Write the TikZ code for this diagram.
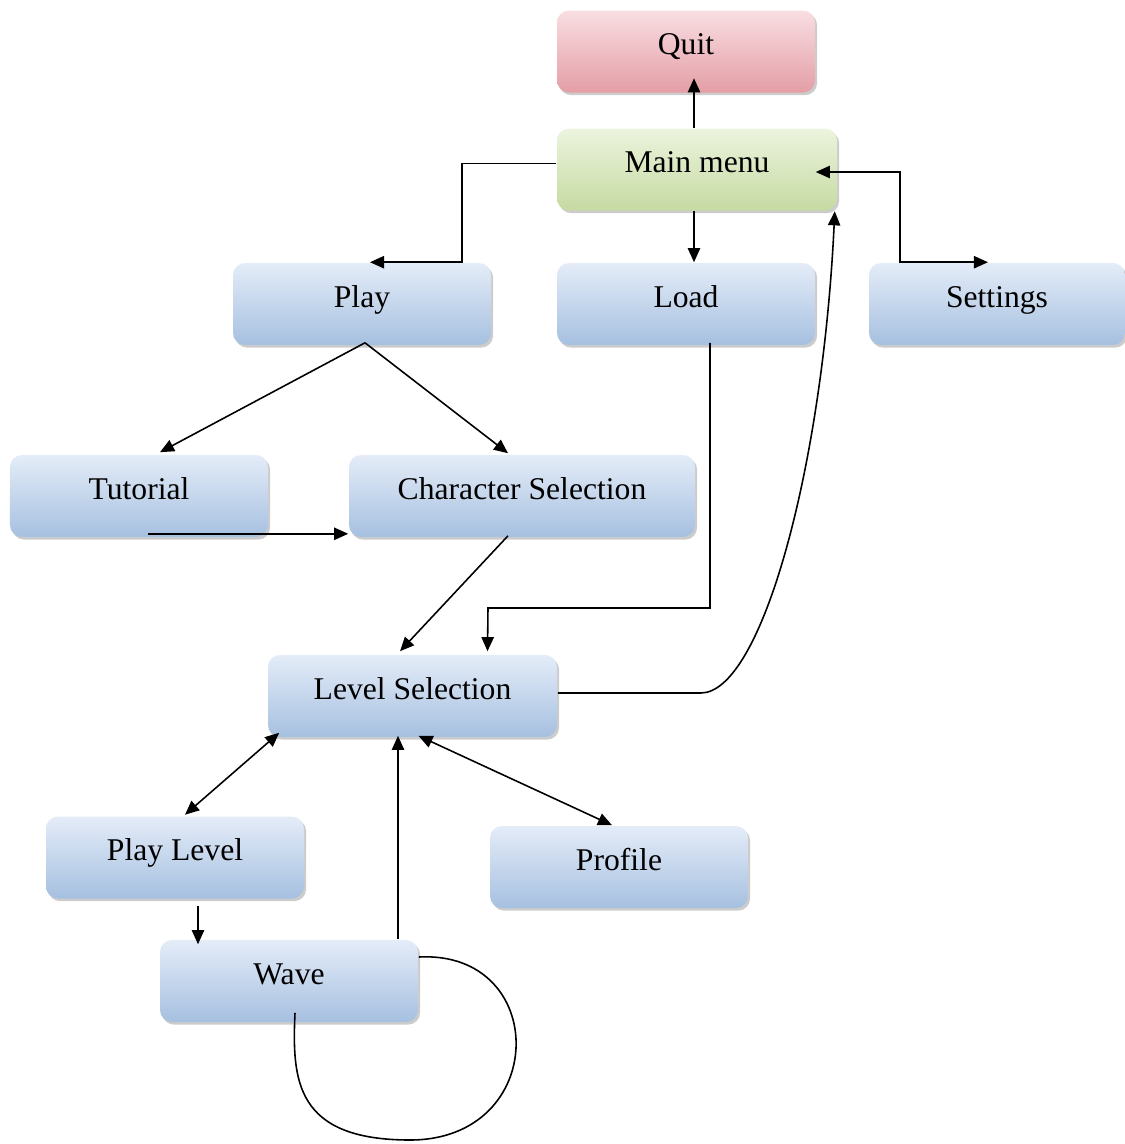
\documentclass[tikz,border=0pt]{standalone}
\usepackage{fontspec}
\setmainfont{Liberation Serif}
\usetikzlibrary{arrows.meta,shadows}

\definecolor{bluelight}{RGB}{228,236,248}
\definecolor{bluedark}{RGB}{166,192,224}
\definecolor{greenlight}{RGB}{236,244,222}
\definecolor{greendark}{RGB}{198,218,162}
\definecolor{redlight}{RGB}{248,222,226}
\definecolor{reddark}{RGB}{228,158,166}

\tikzset{
  box/.style={rectangle,rounded corners=0.24cm,minimum height=1.64cm,
    text height=0.45cm,text depth=0.33cm,
    font=\fontsize{18}{22}\selectfont,
    drop shadow={shadow xshift=1.2pt,shadow yshift=-1.5pt,fill=black!40}},
  bluebox/.style={box,top color=bluelight,bottom color=bluedark},
  greenbox/.style={box,top color=greenlight,bottom color=greendark},
  redbox/.style={box,top color=redlight,bottom color=reddark},
}

\begin{document}
\begin{tikzpicture}[>={Triangle[length=8pt,width=7pt]},line width=0.9pt]
            \useasboundingbox (0,0) rectangle (22.5,-22.88);

            \node[redbox,minimum width=5.16cm] (Q) at (13.72,-1.03) {Quit};
            \node[greenbox,minimum width=5.6cm] (M) at (13.94,-3.39) {Main menu};
            \node[bluebox,minimum width=5.16cm] (P) at (7.24,-6.08) {Play};
            \node[bluebox,minimum width=5.16cm] (D) at (13.72,-6.08) {Load};
            \node[bluebox,minimum width=5.12cm] (S) at (19.94,-6.08) {Settings};
            \node[bluebox,minimum width=5.16cm] (T) at (2.78,-9.92) {Tutorial};
            \node[bluebox,minimum width=6.92cm] (C) at (10.44,-9.92) {Character Selection};
            \node[bluebox,minimum width=5.78cm] (L) at (8.25,-13.92) {Level Selection};
            \node[bluebox,minimum width=5.16cm] (PL) at (3.5,-17.15) {Play Level};
            \node[bluebox,minimum width=5.16cm] (R) at (12.38,-17.34) {Profile};
            \node[bluebox,minimum width=5.16cm] (W) at (5.78,-19.62) {Wave};

            \coordinate (mq) at ([xshift=-0.06cm]M.north);
            \coordinate (c3) at (9.76,-12.16);

            \draw [->] (mq) -- ([yshift=0.3cm]mq |- Q.south);
            \draw [->] ([yshift=0.12cm]M.west) -| ([xshift=2cm]P.north) -- ([xshift=0.16cm]P.north);
            \draw [->] (mq |- M.south) -- (mq |- D.north);
            \draw [<->] ([xshift=-0.44cm,yshift=-0.05cm]M.east) -| ([xshift=-1.94cm]S.north) -- ([xshift=-0.18cm]S.north);
            \path [->] ([xshift=0.06cm,yshift=0.06cm]P.south) edge ([xshift=0.42cm,yshift=0.04cm]T.north);
            \path [->] ([xshift=0.06cm,yshift=0.06cm]P.south) edge ([xshift=-0.28cm,yshift=0.02cm]C.north);
            \draw [->] ([xshift=0.18cm,yshift=0.08cm]T.south) -- ([yshift=0.08cm]C.south west);
            \path [->] ([xshift=-0.28cm,yshift=0.04cm]C.south) edge ([xshift=-0.25cm,yshift=0.06cm]L.north);
            \draw [->] ([xshift=0.48cm,yshift=0.06cm]D.south) |- (c3) -- ([xshift=1.5cm,yshift=0.06cm]L.north);
            \draw [->] ([yshift=0.06cm]L.east) -- ++(2.86,0) .. controls +(1.2,0) and +(-0.25,-5.2) .. ([xshift=-0.06cm]M.south east);
            \path [<->] ([xshift=0.24cm,yshift=0.1cm]L.south west) edge ([xshift=0.2cm,yshift=0.02cm]PL.north);
            \path [<->] ([xshift=0.12cm,yshift=0.04cm]L.south) edge ([xshift=-0.14cm]R.north);
            \draw [->] ([xshift=2.18cm]W.north) -- ([xshift=2.18cm,yshift=0.04cm]W.north |- L.south);
            \draw [->] ([xshift=0.46cm,yshift=-0.14cm]PL.south) -- ([xshift=0.46cm,yshift=-0.1cm]PL.south |- W.north);
            \draw ([yshift=0.48cm]W.east) .. controls (11.0,-19.0) and (11.0,-22.8) .. (8.2,-22.8)
                  .. controls (5.9,-22.8) and (5.84,-21.6) .. ([xshift=0.12cm,yshift=0.2cm]W.south);
        \end{tikzpicture}
\end{document}
